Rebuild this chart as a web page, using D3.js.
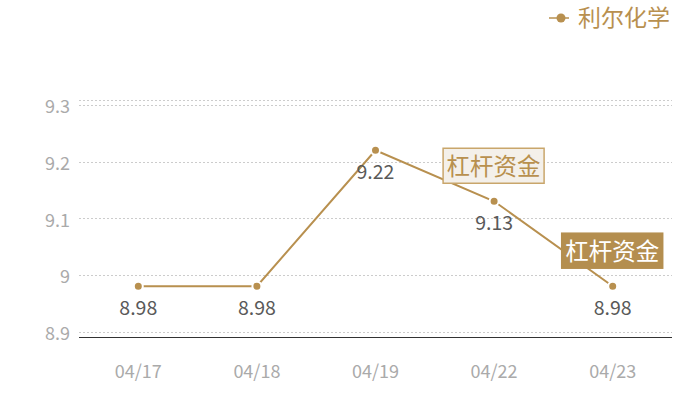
<!DOCTYPE html>
<html>
<head>
<meta charset="utf-8">
<script src="https://cdn.jsdelivr.net/npm/d3@7"></script>
<style>
body { margin: 0; background: #fff; }
text { font-family: "Noto Sans CJK SC", "Noto Sans", sans-serif; }
</style>
</head>
<body>
<div id="chart"></div>
<script>
var svgWidth = 700;
var svgHeight = 400;

// chart data
var dates = ["04/17", "04/18", "04/19", "04/22", "04/23"];
var values = [8.98, 8.98, 9.22, 9.13, 8.98];
var yTicks = [8.9, 9, 9.1, 9.2, 9.3];
var seriesName = "利尔化学";
var notes = [
    {date: "04/22", value: 9.13, text: "杠杆资金", dark: false},
    {date: "04/23", value: 8.98, text: "杠杆资金", dark: true}
];

var gold = "#b8904f";

var svg = d3.select("#chart")
    .append("svg")
    .attr("width", svgWidth)
    .attr("height", svgHeight);

var plot = {left: 79, right: 672, top: 100, bottom: 337};

var x = d3.scalePoint()
    .domain(dates)
    .range([plot.left, plot.right])
    .padding(0.5);

// 9.3 sits a bit under the top edge, 8.9 a bit above the base line
var y = d3.scaleLinear()
    .domain([8.8903, 9.3088])
    .range([plot.bottom, plot.top]);

// gridlines
svg.append("line")
    .attr("x1", plot.left).attr("x2", plot.right)
    .attr("y1", plot.top + 0.5).attr("y2", plot.top + 0.5)
    .attr("stroke", "#ccc")
    .attr("stroke-dasharray", "2,2");

svg.selectAll(".grid")
    .data(yTicks)
    .enter()
    .append("line")
    .attr("class", "grid")
    .attr("x1", plot.left).attr("x2", plot.right)
    .attr("y1", d => Math.round(y(d)) + 0.5)
    .attr("y2", d => Math.round(y(d)) + 0.5)
    .attr("stroke", "#ccc")
    .attr("stroke-dasharray", "2,2");

// y axis labels
svg.selectAll(".ylab")
    .data(yTicks)
    .enter()
    .append("text")
    .attr("x", 70)
    .attr("y", d => y(d) + 2)
    .attr("dy", "0.35em")
    .attr("text-anchor", "end")
    .attr("fill", "#aaa")
    .attr("font-size", 18)
    .text(d => d);

// base line
svg.append("line")
    .attr("x1", plot.left).attr("x2", plot.right)
    .attr("y1", plot.bottom + 0.5).attr("y2", plot.bottom + 0.5)
    .attr("stroke", "#333");

// x axis labels
svg.selectAll(".xlab")
    .data(dates)
    .enter()
    .append("text")
    .attr("x", d => x(d))
    .attr("y", 372)
    .attr("dy", "0.35em")
    .attr("text-anchor", "middle")
    .attr("fill", "#aaa")
    .attr("font-size", 18)
    .text(d => d);

var points = dates.map((d, i) => ({date: d, value: values[i]}));

var line = d3.line()
    .x(d => x(d.date))
    .y(d => y(d.value));

svg.append("path")
    .datum(points)
    .attr("d", line)
    .attr("fill", "none")
    .attr("stroke", gold)
    .attr("stroke-width", 2);

// value labels
svg.selectAll(".vlab")
    .data(points)
    .enter()
    .append("text")
    .attr("x", d => x(d.date))
    .attr("y", d => y(d.value) + 22)
    .attr("dy", "0.35em")
    .attr("text-anchor", "middle")
    .attr("fill", "#595959")
    .attr("font-size", 19.5)
    .text(d => d.value);

// markers
svg.selectAll(".dot")
    .data(points)
    .enter()
    .append("circle")
    .attr("cx", d => x(d.date))
    .attr("cy", d => y(d.value))
    .attr("r", 4.5)
    .attr("fill", gold)
    .attr("stroke", "#fff")
    .attr("stroke-width", 2);

// annotation boxes
var noteG = svg.selectAll(".note")
    .data(notes)
    .enter()
    .append("g")
    .attr("transform", d => `translate(${x(d.date) - 51}, ${y(d.value) - 53})`);

noteG.append("rect")
    .attr("width", 101)
    .attr("height", 35)
    .attr("fill", d => d.dark ? "#b48e4f" : "#f4f0ea")
    .attr("stroke", d => d.dark ? "#b48e4f" : "#c9a66b")
    .attr("stroke-width", 1.5);

noteG.append("text")
    .attr("x", 50.5)
    .attr("y", 18)
    .attr("dy", "0.36em")
    .attr("text-anchor", "middle")
    .attr("font-size", 23.5)
    .attr("fill", d => d.dark ? "#fff" : gold)
    .text(d => d.text);

// legend
var legend = svg.append("g").attr("transform", "translate(549, 18)");
legend.append("line")
    .attr("x1", 0).attr("x2", 20)
    .attr("stroke", gold)
    .attr("stroke-width", 1.5);
legend.append("circle")
    .attr("cx", 12).attr("r", 4.5)
    .attr("fill", gold);
legend.append("text")
    .attr("x", 29)
    .attr("dy", "0.35em")
    .attr("font-size", 23)
    .attr("fill", gold)
    .text(seriesName);
</script>
</body>
</html>
